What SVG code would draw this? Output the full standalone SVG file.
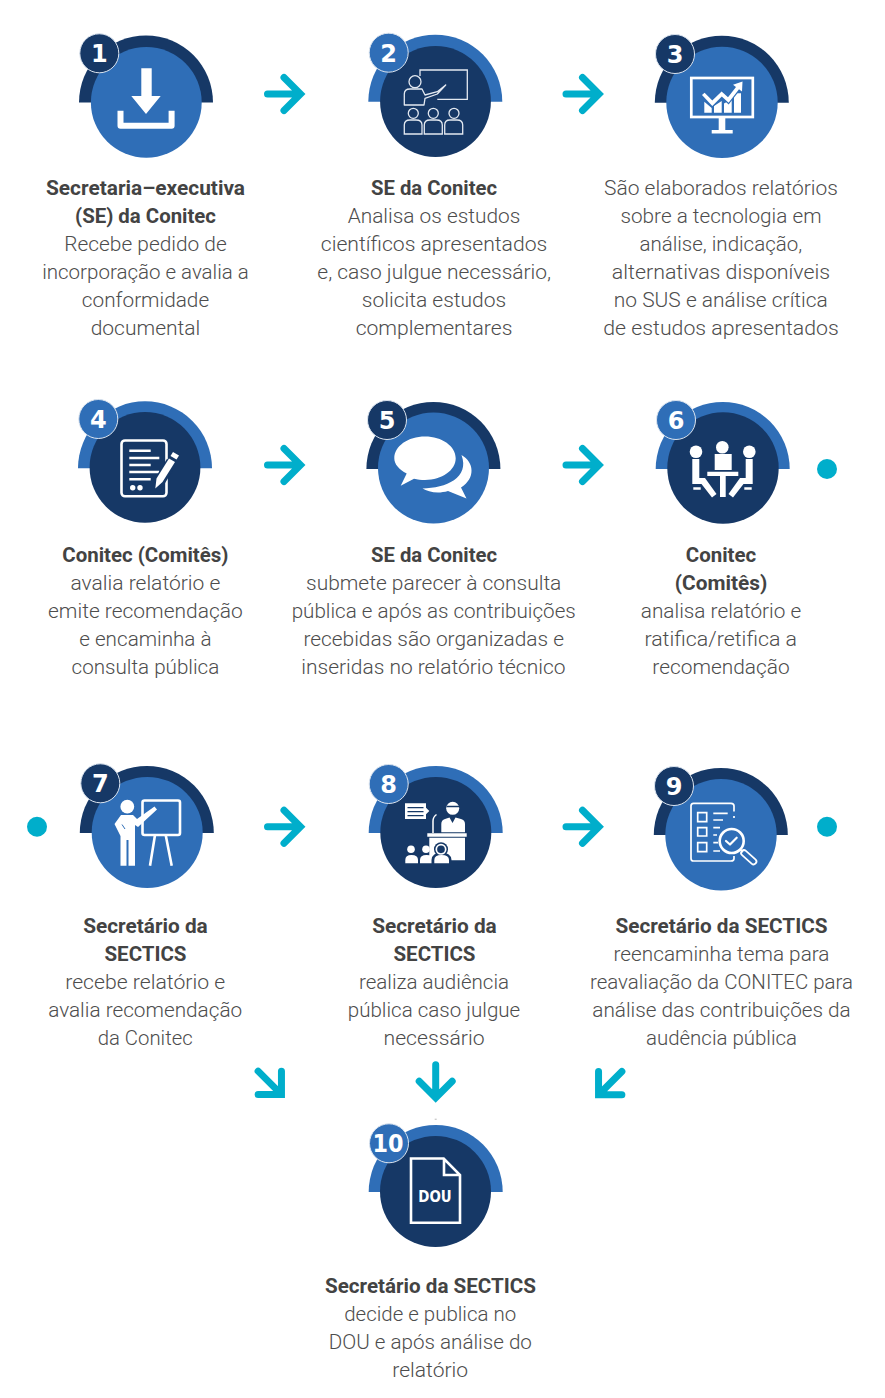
<svg xmlns="http://www.w3.org/2000/svg" width="885" height="1398" viewBox="0 0 885 1398">
<style>
text{font-family:Roboto,"Liberation Sans",sans-serif;font-size:21px;text-anchor:middle}
.t{font-weight:300;fill:#4d4d4d}
.b{font-weight:700;fill:#434343}
.n{font-family:"DejaVu Sans","Liberation Sans",sans-serif;font-weight:700;font-size:24px;fill:#fff}
.navy{fill:#163866}
.blue{fill:#2f6eb7}
.ring{stroke:#dbe4ef;stroke-width:1}
.teal{fill:#00aecb}
.arrow{fill:none;stroke:#00aecb;stroke-width:7;stroke-linecap:round;stroke-linejoin:miter}
.w{fill:#fff}
.s{fill:none;stroke:#fff;stroke-width:2.600}
.s1{fill:none;stroke:#fff;stroke-width:1.700}
.s2{fill:none;stroke:#e3e9f1;stroke-width:1.300}
.sr{fill:none;stroke:#fff;stroke-width:2.200;stroke-linecap:round;stroke-linejoin:round}
</style>
<defs>
<path id="arc" d="M-67 0A67 67 0 0 1 67 0Z"/>
<path id="arr" d="M-17.500 0H15M-1-16.500L15.500 0L-1 16.500"/>
</defs>

<g id="connectors">
<use href="#arr" class="arrow" x="285" y="94"/>
<use href="#arr" class="arrow" x="583.500" y="94"/>
<use href="#arr" class="arrow" x="285" y="465"/>
<use href="#arr" class="arrow" x="583.500" y="465"/>
<use href="#arr" class="arrow" x="285" y="826.700"/>
<use href="#arr" class="arrow" x="583.500" y="826.700"/>
<use href="#arr" class="arrow" transform="translate(270.500 1083.500) rotate(45)"/>
<use href="#arr" class="arrow" transform="translate(435.700 1082.300) rotate(90)"/>
<use href="#arr" class="arrow" transform="translate(609.500 1083.800) rotate(135)"/>
<circle class="teal" cx="827" cy="469" r="10"/>
<circle class="teal" cx="37" cy="826.700" r="10"/>
<circle class="teal" cx="827" cy="826.700" r="10"/>
<rect x="434.700" y="1118.800" width="2" height="0.700" fill="#9a9a9a"/>
</g>

<g id="node1">
<use href="#arc" class="navy" x="146" y="102.500"/>
<circle class="blue" cx="146.300" cy="102.400" r="55.400"/>
<path class="w" d="M141.300 68.300H151.700V96H160.700L146 114L131.300 96H141.300Z"/>
<path fill="none" stroke="#fff" stroke-width="6" stroke-linejoin="round" d="M120.500 110.700V125.700H171.600V110.700"/>
<circle class="navy ring" cx="99.300" cy="53.300" r="19.500"/>
<text class="n" x="99.300" y="62">1</text>
<text class="b" x="145.500" y="195" textLength="199" lengthAdjust="spacingAndGlyphs">Secretaria–executiva</text>
<text class="b" x="145.500" y="223" textLength="141" lengthAdjust="spacingAndGlyphs">(SE) da Conitec</text>
<text class="t" x="145.500" y="251" textLength="162.500" lengthAdjust="spacingAndGlyphs">Recebe pedido de</text>
<text class="t" x="145.500" y="279" textLength="206.700" lengthAdjust="spacingAndGlyphs">incorporação e avalia a</text>
<text class="t" x="145.500" y="307" textLength="127.300" lengthAdjust="spacingAndGlyphs">conformidade</text>
<text class="t" x="145.500" y="335" textLength="109.700" lengthAdjust="spacingAndGlyphs">documental</text>
</g>

<g id="node2">
<use href="#arc" class="blue" x="435.300" y="101.700"/>
<circle class="navy" cx="435.500" cy="101.500" r="55.400"/>
<path class="s2" d="M420 76V70H467.300V99.300H437.300"/>
<circle class="s2" cx="415" cy="81.700" r="6"/>
<path class="s2" stroke-linejoin="round" d="M404.300 105V94Q404.300 89 410 89H422L425 95L437.300 91.700L445.700 85L437.300 94L425 98.300L424 105Z"/>
<circle class="s2" cx="413.300" cy="113.300" r="5"/><circle class="s2" cx="433.300" cy="113.300" r="5"/><circle class="s2" cx="454" cy="113.300" r="5"/>
<path class="s2" d="M404.300 134V125Q404.300 120 410 120H416Q422 120 422 125V134ZM424.300 134V125Q424.300 120 430 120H436.500Q442.300 120 442.300 125V134ZM444.700 134V125Q444.700 120 450 120H457Q462.700 120 462.700 125V134Z"/>
<circle class="blue ring" cx="388.700" cy="52.700" r="19.500"/>
<text class="n" x="388.700" y="61.500">2</text>
<text class="b" x="434" y="195" textLength="126" lengthAdjust="spacingAndGlyphs">SE da Conitec</text>
<text class="t" x="434" y="223" textLength="172.600" lengthAdjust="spacingAndGlyphs">Analisa os estudos</text>
<text class="t" x="434" y="251" textLength="226.500" lengthAdjust="spacingAndGlyphs">científicos apresentados</text>
<text class="t" x="434.200" y="279" textLength="233.800" lengthAdjust="spacingAndGlyphs">e, caso julgue necessário,</text>
<text class="t" x="434" y="307" textLength="144.400" lengthAdjust="spacingAndGlyphs">solicita estudos</text>
<text class="t" x="434" y="335" textLength="156.700" lengthAdjust="spacingAndGlyphs">complementares</text>
</g>

<g id="node3">
<use href="#arc" class="navy" x="721.800" y="102.700"/>
<circle class="blue" cx="722" cy="102.400" r="55.700"/>
<rect x="691.300" y="78" width="61.500" height="39" fill="none" stroke="#fff" stroke-width="2.700"/>
<path class="w" d="M718.700 118H725.300V130H732.700V133.500H711.700V130H718.700ZM704.300 101.700L711.700 108V112.700H704.300ZM714 106L721.700 101V112.700H714ZM724 103.500L731.700 99.300V112.700H724ZM734 93.300H741V112.700H734Z"/>
<path fill="none" stroke="#2f6eb7" stroke-width="6" d="M703.300 94L712.300 103.300L721.700 94L728.300 100L739 86.500"/>
<path class="w" d="M702 95L704.600 92.700L712.300 100.600L721.600 91.400L728 97.200L736 87L733 84.700L742.500 81.500L742 91.500L739 89.300L728.600 102.700L721.800 96.600L712.300 106Z"/>
<circle class="navy ring" cx="675" cy="54" r="19.500"/>
<text class="n" x="675" y="62.800">3</text>
<text class="t" x="721" y="195" textLength="233.800" lengthAdjust="spacingAndGlyphs">São elaborados relatórios</text>
<text class="t" x="721" y="223" textLength="201" lengthAdjust="spacingAndGlyphs">sobre a tecnologia em</text>
<text class="t" x="720.800" y="251" textLength="162.700" lengthAdjust="spacingAndGlyphs">análise, indicação,</text>
<text class="t" x="721" y="279" textLength="218.300" lengthAdjust="spacingAndGlyphs">alternativas disponíveis</text>
<text class="t" x="720.800" y="307" textLength="214" lengthAdjust="spacingAndGlyphs">no SUS e análise crítica</text>
<text class="t" x="721" y="335" textLength="235.500" lengthAdjust="spacingAndGlyphs">de estudos apresentados</text>
</g>

<g id="node4">
<use href="#arc" class="blue" x="145" y="468.300"/>
<circle class="navy" cx="145" cy="467.400" r="55.400"/>
<rect x="121.500" y="440.500" width="45" height="55.800" rx="3.500" class="s"/>
<path class="s" d="M129.300 450.700H150.700M129.300 458H159.300M129.300 465H150.700M129.300 472H159.300M129.300 479.300H150.700"/>
<circle class="w" cx="132.700" cy="487.700" r="2.700"/><circle class="w" cx="140" cy="487.700" r="2.700"/>
<path fill="none" stroke="#163866" stroke-width="11" d="M158 484L171.700 461.700"/>
<path class="w" d="M155.300 488.500L156.500 478.500L169 458.500L175 462L162.500 482ZM170.500 456L173 452L179 455.500L176.500 459.500Z"/>
<circle class="blue ring" cx="98.300" cy="419" r="19.500"/>
<text class="n" x="98.300" y="427.800">4</text>
<text class="b" x="145.400" y="562" textLength="166.200" lengthAdjust="spacingAndGlyphs">Conitec (Comitês)</text>
<text class="t" x="145.400" y="590" textLength="149.800" lengthAdjust="spacingAndGlyphs">avalia relatório e</text>
<text class="t" x="145.400" y="618" textLength="194.800" lengthAdjust="spacingAndGlyphs">emite recomendação</text>
<text class="t" x="145.400" y="646" textLength="132.300" lengthAdjust="spacingAndGlyphs">e encaminha à</text>
<text class="t" x="145.400" y="674" textLength="147.700" lengthAdjust="spacingAndGlyphs">consulta pública</text>
</g>

<g id="node5">
<use href="#arc" class="navy" x="433.400" y="469"/>
<circle class="blue" cx="433.500" cy="468" r="55.500"/>
<path class="w" d="M425 436.600C442 436.600 455.700 446.300 455.700 458.300C455.700 470.300 442 480 425 480C421 480 417.500 479.600 414 478.700L400.700 485.700L406.700 473.500C399 469.500 394.300 464.300 394.300 458.300C394.300 446.300 408 436.600 425 436.600Z"/>
<path class="w" d="M461.500 455C474 462 476 478 461 487.500L466.500 498.500L448 491C438 494 428 492 422.500 488.500C446 488 470 478 461.500 455Z"/>
<circle class="navy ring" cx="387" cy="420" r="19.500"/>
<text class="n" x="387" y="428.800">5</text>
<text class="b" x="434" y="562" textLength="126" lengthAdjust="spacingAndGlyphs">SE da Conitec</text>
<text class="t" x="433.700" y="590" textLength="255.300" lengthAdjust="spacingAndGlyphs">submete parecer à consulta</text>
<text class="t" x="433.700" y="618" textLength="284.100" lengthAdjust="spacingAndGlyphs">pública e após as contribuições</text>
<text class="t" x="433.700" y="646" textLength="260.600" lengthAdjust="spacingAndGlyphs">recebidas são organizadas e</text>
<text class="t" x="433.400" y="674" textLength="264.100" lengthAdjust="spacingAndGlyphs">inseridas no relatório técnico</text>
</g>

<g id="node6">
<use href="#arc" class="blue" x="722.700" y="469"/>
<circle class="navy" cx="723" cy="468" r="55.700"/>
<circle class="w" cx="696" cy="451.700" r="6.300"/><circle class="w" cx="722.300" cy="447.300" r="6.300"/><circle class="w" cx="749.300" cy="451.700" r="6.300"/>
<path class="w" d="M714.700 454H731.700V470H714.700ZM707.300 471.700H738.300V476H725.700V497H720V476H707.300ZM692.300 459H699.300V478H705L716.500 494L712 497.500L701.500 484H692.300ZM752.700 459H745.700V478H740L728.500 494L733 497.500L743.500 484H752.700Z"/>
<path class="s" d="M693.300 488.500H700.700M744.300 488.500H751.700"/>
<circle class="blue ring" cx="676" cy="420" r="19.500"/>
<text class="n" x="676" y="428.800">6</text>
<text class="b" x="721" y="562" textLength="70.500" lengthAdjust="spacingAndGlyphs">Conitec</text>
<text class="b" x="721" y="590" textLength="92.500" lengthAdjust="spacingAndGlyphs">(Comitês)</text>
<text class="t" x="721" y="618" textLength="160.400" lengthAdjust="spacingAndGlyphs">analisa relatório e</text>
<text class="t" x="720.700" y="646" textLength="152.600" lengthAdjust="spacingAndGlyphs">ratifica/retifica a</text>
<text class="t" x="721" y="674" textLength="137.400" lengthAdjust="spacingAndGlyphs">recomendação</text>
</g>

<g id="node7">
<use href="#arc" class="navy" x="146.800" y="833"/>
<circle class="blue" cx="147.200" cy="832.400" r="55.500"/>
<rect x="142.500" y="800.500" width="37.500" height="34.500" rx="2" class="s"/>
<path class="s" d="M155 835L150 865.700M165.700 835L171.700 865.700"/>
<circle class="w" cx="127.300" cy="806.700" r="6.900"/>
<path class="w" d="M121 815H133L137 819L154.500 806.500L157 809.500L138 827L135 825V865.700H128.500V840H126.500V865.700H120.500V836L114.500 824Z"/>
<path fill="none" stroke="#2f6eb7" stroke-width="1" d="M122 824.500L125 829"/>
<circle class="navy ring" cx="100.300" cy="783.300" r="19.500"/>
<text class="n" x="100.300" y="792">7</text>
<text class="b" x="145.500" y="933" textLength="124.500" lengthAdjust="spacingAndGlyphs">Secretário da</text>
<text class="b" x="145.500" y="961" textLength="82" lengthAdjust="spacingAndGlyphs">SECTICS</text>
<text class="t" x="145.200" y="989" textLength="160" lengthAdjust="spacingAndGlyphs">recebe relatório e</text>
<text class="t" x="145.200" y="1017" textLength="194" lengthAdjust="spacingAndGlyphs">avalia recomendação</text>
<text class="t" x="145.200" y="1045" textLength="95" lengthAdjust="spacingAndGlyphs">da Conitec</text>
</g>

<g id="node8">
<use href="#arc" class="blue" x="435.700" y="833"/>
<circle class="navy" cx="435.800" cy="832.400" r="55.500"/>
<path class="w" d="M405 803.300H426V807.800L429.300 811L426 814.300V819H405Z"/>
<path fill="none" stroke="#163866" stroke-width="1.200" d="M407.500 807.700H423.500M407.500 811.700H423.500M407.500 815.700H423.500"/>
<circle class="w" cx="452.700" cy="808.300" r="6.500"/>
<path fill="none" stroke="#163866" stroke-width="1.500" d="M446.500 806.500H459"/>
<path class="w" d="M441.300 832.300V824Q441.300 820 445 819L449.500 817.500L452.500 823L455.500 817.500L461 819Q465 820 465 824V832.300Z"/>
<path class="w" d="M427.300 833.300H466.700V836.700H427.300ZM429.300 837.700H465V860.300H429.300Z"/>
<path fill="none" stroke="#fff" stroke-width="1.500" d="M433 833V821Q433 817 436.500 814.500"/>
<circle class="w" cx="411" cy="849.300" r="3.800"/><circle class="w" cx="426" cy="849.300" r="3.800"/>
<path class="w" d="M405.300 863.300V860Q405.300 855 411.500 855Q418 855 418 860V863.300ZM420 863.300V860Q420 855 426.500 855Q433.300 855 433.300 860V863.300Z"/>
<circle cx="441" cy="849.300" r="7" class="navy"/>
<path class="navy" d="M431.500 864V860Q432 852.500 441.500 852.500Q451 852.500 451.500 860V864Z"/>
<circle cx="441" cy="849.300" r="4.700" class="s1"/>
<path class="w" d="M434.300 863.300V860Q434.300 855 441.500 855Q449 855 449 860V863.300Z"/>
<circle class="blue ring" cx="388.700" cy="784" r="19.500"/>
<text class="n" x="388.700" y="792.800">8</text>
<text class="b" x="434.500" y="933" textLength="124.500" lengthAdjust="spacingAndGlyphs">Secretário da</text>
<text class="b" x="434.500" y="961" textLength="82" lengthAdjust="spacingAndGlyphs">SECTICS</text>
<text class="t" x="434" y="989" textLength="150" lengthAdjust="spacingAndGlyphs">realiza audiência</text>
<text class="t" x="434" y="1017" textLength="172.500" lengthAdjust="spacingAndGlyphs">pública caso julgue</text>
<text class="t" x="434" y="1045" textLength="101" lengthAdjust="spacingAndGlyphs">necessário</text>
</g>

<g id="node9">
<use href="#arc" class="navy" x="720.800" y="835"/>
<circle class="blue" cx="721" cy="834.700" r="55.700"/>
<path class="s1" d="M734 811.500V806Q734 803.300 731 803.300H693.500Q691 803.300 691 806V858.500Q691 861 693.500 861H731Q734 861 734 858.500V856M734 816V818"/>
<path class="s1" d="M697.700 812.700H706.700V821.700H697.700ZM697.700 827.700H706.700V836H697.700ZM697.700 842.700H706.700V851.700H697.700ZM713.300 813.300H727.700M713.300 820H723M713.300 827.700H720M713.300 835H717M713.300 842.700H718M713.300 851H720"/>
<circle class="s" cx="731.700" cy="841" r="12"/>
<path class="sr" d="M726 841L730 844.500L736.700 837.700"/>
<path fill="none" stroke="#fff" stroke-width="7.500" stroke-linecap="round" d="M744 853L753.500 861.500"/>
<path fill="none" stroke="#2f6eb7" stroke-width="4" stroke-linecap="round" d="M744 853L753.500 861.500"/>
<path class="s1" d="M740 849.500L743 852"/>
<circle class="navy ring" cx="674" cy="786" r="19.500"/>
<text class="n" x="674" y="794.800">9</text>
<text class="b" x="721.500" y="933" textLength="212" lengthAdjust="spacingAndGlyphs">Secretário da SECTICS</text>
<text class="t" x="721.500" y="961" textLength="216" lengthAdjust="spacingAndGlyphs">reencaminha tema para</text>
<text class="t" x="721.500" y="989" textLength="263" lengthAdjust="spacingAndGlyphs">reavaliação da CONITEC para</text>
<text class="t" x="721.500" y="1017" textLength="258.500" lengthAdjust="spacingAndGlyphs">análise das contribuições da</text>
<text class="t" x="721.500" y="1045" textLength="151" lengthAdjust="spacingAndGlyphs">audência pública</text>
</g>

<g id="node10">
<use href="#arc" class="blue" x="435.700" y="1192"/>
<circle class="navy" cx="435.500" cy="1191.400" r="55.500"/>
<path class="s" d="M411 1158.500H443.700L460 1175V1222.700H411ZM444 1158.500V1175H460"/>
<text x="435" y="1201.700" fill="#fff" textLength="33.400" lengthAdjust="spacingAndGlyphs" style="font-family:'DejaVu Sans',sans-serif;font-size:15px;font-weight:700">DOU</text>
<circle class="blue ring" cx="389" cy="1143.300" r="19.500"/>
<text class="n" x="388" y="1152" textLength="31" lengthAdjust="spacingAndGlyphs">10</text>
<text class="b" x="430.500" y="1293" textLength="211" lengthAdjust="spacingAndGlyphs">Secretário da SECTICS</text>
<text class="t" x="430.200" y="1321" textLength="172" lengthAdjust="spacingAndGlyphs">decide e publica no</text>
<text class="t" x="430.300" y="1349" textLength="203.300" lengthAdjust="spacingAndGlyphs">DOU e após análise do</text>
<text class="t" x="430.200" y="1377" textLength="75.700" lengthAdjust="spacingAndGlyphs">relatório</text>
</g>
</svg>
